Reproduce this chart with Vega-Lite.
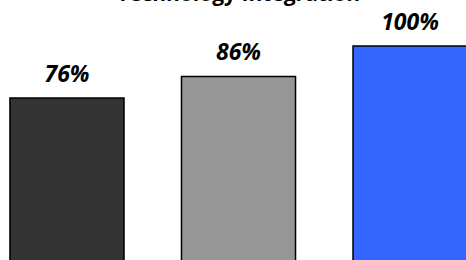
{
  "$schema": "https://vega.github.io/schema/vega-lite/v6.json",
  "autosize": {"type": "none"},
  "padding": {"top": 46, "left": 0, "right": 0, "bottom": 0},
  "width": 477,
  "height": 217,
  "background": "white",
  "title": {
    "text": "Technology Integration",
    "font": "Open Sans",
    "fontSize": 21,
    "fontWeight": "bold",
    "color": "black",
    "anchor": "middle",
    "frame": "group",
    "baseline": "alphabetic",
    "offset": -10
  },
  "config": {"view": {"stroke": null}},
  "data": {
    "values": [
      {"cat": "A", "value": 76, "label": "76%"},
      {"cat": "B", "value": 86, "label": "86%"},
      {"cat": "C", "value": 100, "label": "100%"}
    ]
  },
  "encoding": {
    "x": {"field": "cat", "type": "nominal", "axis": null,
      "scale": {"paddingInner": 0.335, "paddingOuter": 0.058}},
    "y": {"field": "value", "type": "quantitative", "axis": null,
      "scale": {"domain": [0, 100], "nice": false}}
  },
  "layer": [
    {
      "mark": {"type": "bar", "stroke": "black", "strokeWidth": 1.5},
      "encoding": {
        "color": {"field": "cat", "type": "nominal", "legend": null,
          "scale": {"domain": ["A", "B", "C"], "range": ["#333333", "#969696", "#3366FF"]}}
      }
    },
    {
      "mark": {"type": "text", "font": "Open Sans", "fontSize": 23, "fontWeight": "bold", "fontStyle": "italic", "baseline": "alphabetic", "dy": -16, "color": "black"},
      "encoding": {"text": {"field": "label"}}
    }
  ]
}
